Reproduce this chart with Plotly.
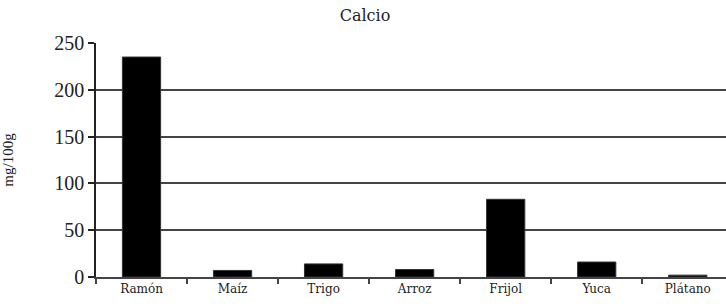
import plotly.graph_objects as go

categories = ["Ramón", "Maíz", "Trigo", "Arroz", "Frijol", "Yuca", "Plátano"]
calcio = [235, 7, 14, 8, 83, 16, 2]
y_ticks = [0, 50, 100, 150, 200, 250]

SERIF = "Liberation Serif"
WIDE = "DejaVu Serif"

fig = go.Figure()
fig.add_trace(go.Bar(
    x=categories, y=calcio,
    marker=dict(color="black", line=dict(color="#333", width=1)),
    width=0.42,
))

fig.update_layout(
    width=726, height=307,
    margin=dict(l=96, r=0, t=43, b=30),
    plot_bgcolor="white", paper_bgcolor="white",
    font=dict(family=SERIF, color="#222"),
    title=dict(text="Calcio", x=365/726, xanchor="center", y=1 - 15/307, yanchor="middle",
               font=dict(family=WIDE, size=16, color="#222")),
    showlegend=False,
    bargap=0.58,
)
fig.update_xaxes(
    range=[-0.5, 6.42],
    showline=True, linecolor="#444", linewidth=1.5,
    ticks="outside", tickson="boundaries", ticklen=5, tickcolor="#444", tickwidth=1.5,
    tickfont=dict(family=WIDE, size=12, color="#222"),
    showgrid=False,
)
fig.update_yaxes(
    range=[0, 250], tickvals=y_ticks,
    showline=True, linecolor="#222", linewidth=1.5,
    ticks="outside", ticklen=6, tickcolor="#222", tickwidth=1.5,
    tickfont=dict(family=SERIF, size=20, color="#222"),
    showgrid=True, gridcolor="#444", gridwidth=1.5,
    zeroline=False, automargin=False,
    title=dict(text="mg/100g", font=dict(family=SERIF, size=15, color="#222"), standoff=40),
)

fig.write_html("out.html", config={"displayModeBar": False},
               post_script="document.body.style.margin='0';document.body.style.padding='0';")
